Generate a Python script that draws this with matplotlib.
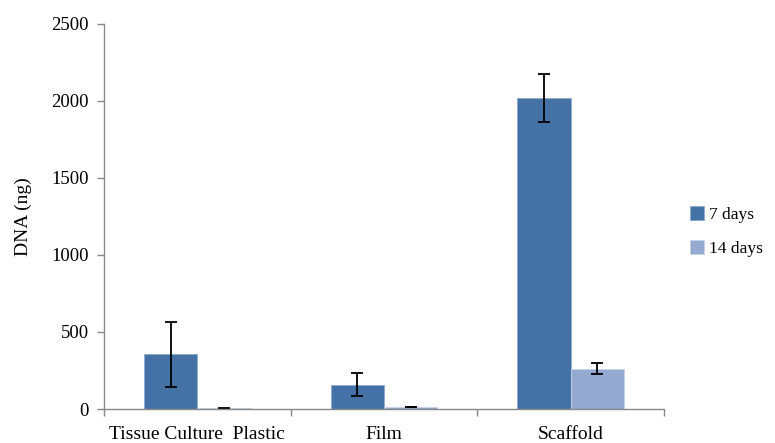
import numpy as np
from matplotlib import pyplot as plt

# values
categories = ["Tissue Culture  Plastic", "Film", "Scaffold"]
days7 = [355, 158, 2019]
days7_err = [211, 74, 155]
days14 = [6, 13, 262]
days14_err = [3, 3, 34]

plt.rcParams['font.family'] = ['Liberation Serif', 'DejaVu Serif']

fig = plt.figure(figsize=(7.75, 4.43), dpi=100)
ax = fig.add_axes([0.134, 0.0767, 0.723, 0.8695])

x = np.arange(len(categories))
w = 1 / 3.5
ax.bar(x - w / 2, days7, w, color="#4472a7", edgecolor="#8faad4", linewidth=0.6,
       yerr=days7_err, error_kw=dict(ecolor="black", elinewidth=1.3, capsize=4, capthick=1.3),
       label="7 days")
ax.bar(x + w / 2, days14, w, color="#94a9d0", edgecolor="#c6d3ea", linewidth=0.6,
       yerr=days14_err, error_kw=dict(ecolor="black", elinewidth=1.3, capsize=4, capthick=1.3),
       label="14 days")

ax.set_xlim(-0.5, 2.5)
ax.set_ylim(0, 2500)
ax.set_yticks(range(0, 2501, 500))
ax.set_xticks(x)
ax.set_xticklabels(categories, fontsize=14)
ax.set_xticks(np.arange(-0.5, 2.6, 1), minor=True)
ax.tick_params(axis='x', which='major', length=0, pad=12)
ax.tick_params(axis='x', which='minor', length=5, color="#888888", width=1)
ax.tick_params(axis='y', length=5, color="#888888", width=1, labelsize=13.5, pad=6)
ax.set_ylabel("DNA (ng)", fontsize=14, labelpad=14)

for s in ['top', 'right']:
    ax.spines[s].set_visible(False)
for s in ['left', 'bottom']:
    ax.spines[s].set_color("#888888")
    ax.spines[s].set_linewidth(1)

ax.legend(loc='upper left', bbox_to_anchor=(1.025, 0.558), frameon=False, fontsize=12.5,
          handlelength=0.8, handleheight=0.8, handletextpad=0.3, labelspacing=1.0,
          borderaxespad=0.3)

plt.savefig("out.png", dpi=100)
